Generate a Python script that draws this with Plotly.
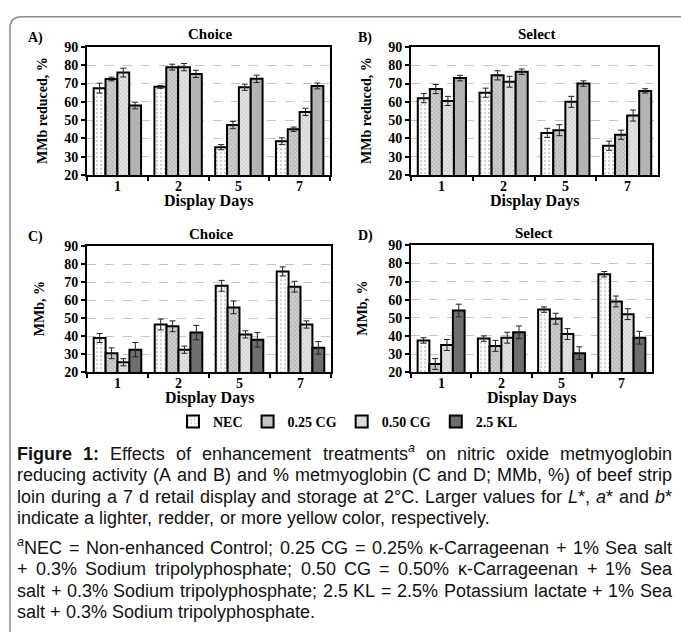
import re
import plotly.graph_objects as go

W, H = 681, 635

days = ["1", "2", "5", "7"]
treatments = ["NEC", "0.25 CG", "0.50 CG", "2.5 KL"]
y_ticks = [20, 30, 40, 50, 60, 70, 80, 90]

# Panel A: Choice, MMb reduced, %  (one list per treatment, over days 1,2,5,7)
a_nec = [67.5, 68.2, 35.2, 38.5]
a_cg25 = [72.5, 79.0, 47.3, 45.0]
a_cg50 = [76.0, 79.0, 68.0, 54.5]
a_kl = [58.0, 75.3, 72.6, 68.7]
a_nec_err = [2.7, 0.8, 1.4, 1.8]
a_cg25_err = [1.0, 1.6, 2.0, 1.2]
a_cg50_err = [2.4, 2.0, 1.7, 2.0]
a_kl_err = [1.8, 2.0, 2.0, 1.6]

# Panel B: Select, MMb reduced, %
b_nec = [62.0, 65.0, 43.0, 36.0]
b_cg25 = [67.0, 74.5, 44.5, 42.0]
b_cg50 = [60.5, 71.0, 60.0, 52.5]
b_kl = [73.0, 76.5, 70.0, 66.0]
b_nec_err = [2.5, 2.5, 2.5, 2.5]
b_cg25_err = [2.5, 2.5, 3.0, 2.5]
b_cg50_err = [2.5, 3.0, 3.0, 3.0]
b_kl_err = [1.5, 1.5, 1.5, 1.2]

# Panel C: Choice, MMb, %
c_nec = [39.0, 46.5, 68.0, 76.0]
c_cg25 = [30.5, 45.5, 56.0, 67.5]
c_cg50 = [25.5, 32.5, 41.0, 46.5]
c_kl = [32.5, 42.0, 38.0, 33.5]
c_nec_err = [2.5, 3.0, 3.0, 2.5]
c_cg25_err = [3.0, 3.0, 3.5, 3.0]
c_cg50_err = [2.0, 2.0, 2.0, 2.0]
c_kl_err = [4.0, 4.0, 4.0, 3.5]

# Panel D: Select, MMb, %
d_nec = [37.5, 38.5, 54.5, 74.0]
d_cg25 = [24.5, 34.5, 49.5, 59.0]
d_cg50 = [35.0, 39.0, 41.0, 52.0]
d_kl = [54.0, 42.0, 30.5, 39.0]
d_nec_err = [1.5, 1.5, 1.5, 1.5]
d_cg25_err = [3.0, 3.0, 3.0, 3.0]
d_cg50_err = [3.0, 3.0, 3.0, 3.0]
d_kl_err = [3.5, 3.5, 3.5, 3.5]

panel_titles = ["Choice", "Select", "Choice", "Select"]
panel_letters = ["A)", "B)", "C)", "D)"]
y_titles = ["MMb reduced, %", "MMb reduced, %", "MMb, %", "MMb, %"]

# caption lines: (text, justified?)
caption_lines = [
    ("<b>Figure</b> <b>1:</b> Effects of enhancement treatments<sup><i>a</i></sup> on nitric oxide metmyoglobin", True),
    ("reducing activity (A and B) and % metmyoglobin (C and D; MMb, %) of beef strip", True),
    ("loin during a 7 d retail display and storage at 2°C. Larger values for <i>L</i>*, <i>a</i>* and <i>b</i>*", True),
    ("indicate a lighter, redder, or more yellow color, respectively.", False),
    ("<sup><i>a</i></sup>NEC = Non-enhanced Control; 0.25 CG = 0.25% κ-Carrageenan + 1% Sea salt", True),
    ("+ 0.3% Sodium tripolyphosphate; 0.50 CG = 0.50% κ-Carrageenan + 1% Sea", True),
    ("salt + 0.3% Sodium tripolyphosphate; 2.5 KL = 2.5% Potassium lactate + 1% Sea", True),
    ("salt + 0.3% Sodium tripolyphosphate.", False),
]

panels = [
    ([a_nec, a_cg25, a_cg50, a_kl], [a_nec_err, a_cg25_err, a_cg50_err, a_kl_err]),
    ([b_nec, b_cg25, b_cg50, b_kl], [b_nec_err, b_cg25_err, b_cg50_err, b_kl_err]),
    ([c_nec, c_cg25, c_cg50, c_kl], [c_nec_err, c_cg25_err, c_cg50_err, c_kl_err]),
    ([d_nec, d_cg25, d_cg50, d_kl], [d_nec_err, d_cg25_err, d_cg50_err, d_kl_err]),
]


def px(x):
    return x / W


def py(y):
    return 1 - y / H


# plot areas in pixels: (x0, x1, ytop, ybottom)
areas = [
    (87, 330, 41, 172),
    (411, 658, 41, 172),
    (87, 331, 245, 374),
    (411, 652, 244, 374),
]

SERIF = "Liberation Serif, Times New Roman, serif"
SANS = "Liberation Sans, Arial, sans-serif"


def styles(panel_idx):
    kl_color = "#b3b3b3" if panel_idx < 2 else "#6f6f6f"
    return [
        dict(color="white", pattern=dict(shape=".", fgcolor="#9a9a9a", bgcolor="white", size=4, solidity=0.25)),
        dict(color="#c4c4c4", pattern=dict(shape="x", fgcolor="#7a7a7a", bgcolor="#d0d0d0", size=3, solidity=0.35)),
        dict(color="#dcdcdc", pattern=dict(shape="x", fgcolor="#9c9c9c", bgcolor="#e4e4e4", size=3, solidity=0.3)),
        dict(color=kl_color),
    ]


fig = go.Figure()

for i, (vals, errs) in enumerate(panels):
    ax = "" if i == 0 else str(i + 1)
    st = styles(i)
    for j, name in enumerate(treatments):
        mk = dict(st[j])
        mk["line"] = dict(color="black", width=2)
        fig.add_trace(go.Bar(
            x=days, y=vals[j], name=name,
            xaxis="x" + ax, yaxis="y" + ax,
            marker=mk,
            error_y=dict(type="data", array=errs[j], color="#222222", thickness=1, width=3),
            offsetgroup=str(j),
            showlegend=(i == 2),
            legendgroup=name,
            hoverinfo="skip",
        ))

layout = dict(
    width=W, height=H,
    margin=dict(l=0, r=0, t=0, b=0),
    paper_bgcolor="white", plot_bgcolor="white",
    barmode="group", bargap=0.22, bargroupgap=0,
    font=dict(family=SERIF, color="black"),
    legend=dict(
        orientation="h", x=px(348), y=py(425), xanchor="center", yanchor="middle",
        font=dict(family=SERIF, size=14, color="black", weight="bold"),
        itemwidth=30, tracegroupgap=0, bgcolor="rgba(0,0,0,0)",
    ),
)

annotations = []
for i, (x0, x1, yt, yb) in enumerate(areas):
    ax = "" if i == 0 else str(i + 1)
    layout["xaxis" + ax] = dict(
        domain=[px(x0), px(x1)], anchor="y" + ax, type="category",
        categoryorder="array", categoryarray=days, range=[-0.5, len(days) - 0.5],
        showline=True, linecolor="black", linewidth=2, mirror=True,
        ticks="outside", tickson="boundaries", ticklen=4, tickwidth=2, tickcolor="black",
        showticklabels=False,
        showgrid=False, fixedrange=True,
    )
    layout["yaxis" + ax] = dict(
        domain=[py(yb), py(yt)], anchor="x" + ax, range=[20, 90],
        tickvals=y_ticks, ticktext=[str(v) for v in y_ticks],
        showline=True, linecolor="black", linewidth=2, mirror=True,
        ticks="outside", ticklen=4, tickwidth=2, tickcolor="black",
        tickfont=dict(family=SERIF, size=14, color="black", weight="bold"),
        showgrid=True, gridcolor="#c4c4c4", gridwidth=1, griddash="dash",
        zeroline=False, fixedrange=True,
    )
    # category tick labels, placed on the x axis scale (category index)
    for k, d in enumerate(days):
        annotations.append(dict(text=d, x=k, xref="x" + ax, y=py(yb + 12), yref="paper",
                                showarrow=False, xanchor="center", yanchor="middle",
                                font=dict(family=SERIF, size=14, color="black", weight="bold")))
    cx = (x0 + x1) / 2
    annotations.append(dict(text=panel_titles[i], x=px(cx + 2), y=py(yt - 13), xref="paper", yref="paper",
                            showarrow=False, xanchor="center", yanchor="middle",
                            font=dict(family=SERIF, size=15, color="black", weight="bold")))
    annotations.append(dict(text=panel_letters[i], x=px(x0 - 61 if i % 2 == 0 else x0 - 55), y=py(yt - 9),
                            xref="paper", yref="paper", showarrow=False, xanchor="left", yanchor="middle",
                            font=dict(family=SERIF, size=14, color="black", weight="bold")))
    annotations.append(dict(text="Display Days", x=px(cx), y=py(yb + (27 if i < 2 else 26)),
                            xref="paper", yref="paper", showarrow=False, xanchor="center", yanchor="middle",
                            font=dict(family=SERIF, size=16, color="black", weight="bold")))
    annotations.append(dict(text=y_titles[i], x=px(x0 - 44 if i < 2 else x0 - 48), y=py((yt + yb) / 2),
                            xref="paper", yref="paper", showarrow=False, textangle=-90,
                            xanchor="center", yanchor="middle",
                            font=dict(family=SERIF, size=14, color="black", weight="bold")))

# ---- justified caption (Arial / Liberation Sans metrics, 1/1000 em) ----
REG = {' ': 278, '!': 278, '%': 889, '(': 333, ')': 333, '*': 389, '+': 584, ',': 278, '-': 333,
       '.': 278, ':': 278, ';': 278, '=': 584, '°': 400, 'κ': 500,
       'A': 667, 'B': 667, 'C': 722, 'D': 722, 'E': 667, 'F': 611, 'G': 778, 'H': 722, 'I': 278,
       'J': 500, 'K': 667, 'L': 556, 'M': 833, 'N': 722, 'O': 778, 'P': 667, 'Q': 778, 'R': 722,
       'S': 667, 'T': 611, 'U': 722, 'V': 667, 'W': 944, 'X': 667, 'Y': 667, 'Z': 611,
       'a': 556, 'b': 556, 'c': 500, 'd': 556, 'e': 556, 'f': 278, 'g': 556, 'h': 556, 'i': 222,
       'j': 222, 'k': 500, 'l': 222, 'm': 833, 'n': 556, 'o': 556, 'p': 556, 'q': 556, 'r': 333,
       's': 500, 't': 278, 'u': 556, 'v': 500, 'w': 722, 'x': 500, 'y': 500, 'z': 500}
BOLD = {'F': 611, 'i': 278, 'g': 611, 'u': 611, 'r': 389, 'e': 556, '1': 556, ':': 333}

CAP_SIZE = 18


def word_width(w):
    total = 0.0
    bold = False
    sup = False
    for tok in re.split(r'(<[^>]+>)', w):
        if tok.startswith('<'):
            t = tok.lower()
            if t == '<b>':
                bold = True
            elif t == '</b>':
                bold = False
            elif t == '<sup>':
                sup = True
            elif t == '</sup>':
                sup = False
            continue
        for ch in tok:
            if ch.isdigit():
                cw = 556
            elif bold:
                cw = BOLD.get(ch, REG.get(ch, 556) * 1.08)
            else:
                cw = REG.get(ch, 556)
            total += cw * (0.7 if sup else 1.0)
    return total / 1000.0 * CAP_SIZE


cap_left, cap_right = 17, 672
cap_y = [458, 480, 502, 524, 554, 576, 598, 620]
space_w = 278 / 1000.0 * CAP_SIZE
for (line, just), yy in zip(caption_lines, cap_y):
    words = line.split(' ')
    widths = [word_width(w) for w in words]
    natural = sum(widths) + space_w * (len(words) - 1)
    gap = space_w
    if just and len(words) > 1:
        gap = space_w + (cap_right - cap_left - natural) / (len(words) - 1)
    x = cap_left
    for w, ww in zip(words, widths):
        annotations.append(dict(text=w, x=px(x - 1), y=py(yy + 11), xref="paper", yref="paper",
                                showarrow=False, xanchor="left", yanchor="bottom", align="left",
                                borderpad=0,
                                font=dict(family=SANS, size=CAP_SIZE, color="#111111")))
        x += ww + gap

layout["annotations"] = annotations

# outer rounded frame (top-left corner only visible)
layout["shapes"] = [dict(
    type="path", xref="paper", yref="paper",
    path=f"M {px(10)},{py(640)} L {px(10)},{py(22)} Q {px(10)},{py(10)} {px(22)},{py(10)} L {px(690)},{py(10)}",
    line=dict(color="#8a8a8a", width=1.5),
)]

fig.update_layout(**layout)
fig.write_html("out.html", config={"displayModeBar": False},
               post_script="document.body.style.margin='0px';document.body.style.overflow='hidden';")
